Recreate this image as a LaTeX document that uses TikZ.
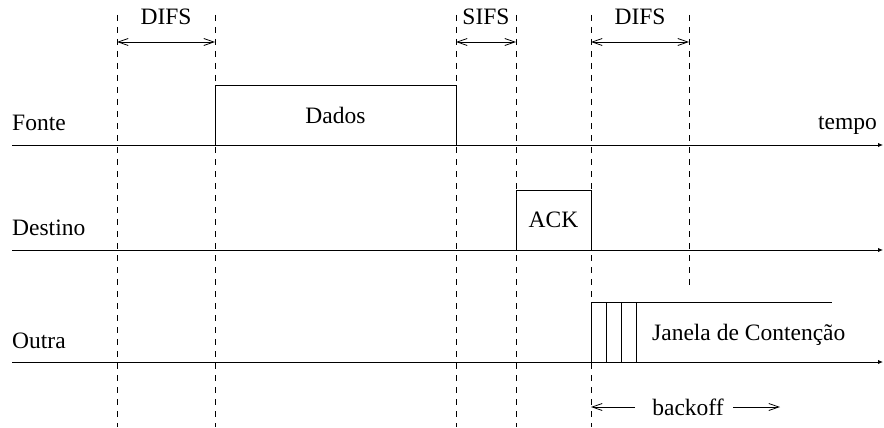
\documentclass[tikz,border=0pt]{standalone}
\usepackage{fontspec}
\setmainfont{Liberation Serif}
\usetikzlibrary{arrows.meta}

\tikzset{
  timeline/.style={line width=1pt, -{Latex[length=5pt,width=4.5pt]}},
  guide/.style={line width=0.9pt, dash pattern=on 6pt off 6pt},
  span/.style={line width=0.8pt, {Straight Barb[length=10pt,width=7pt]}-{Straight Barb[length=10pt,width=7pt]}},
  barb/.style={line width=0.8pt, -{Straight Barb[length=10pt,width=7pt]}},
  frame/.style={draw, line width=0.9pt, inner sep=0pt},
  lbl/.style={font=\fontsize{23.5}{28}\selectfont, inner sep=0pt},
}

\begin{document}
\begin{tikzpicture}[x=1pt, y=-1pt]
        \useasboundingbox (0,0) rectangle (884,428);

        % Draw the dashed guide lines
        \foreach \gx/\gname in {117/a, 215/b, 456/c, 516/d, 591/e} {
            \coordinate (top\gname) at (\gx, 15);
            \coordinate (bot\gname) at (\gx, 427);
            \draw[guide] (top\gname) -- (bot\gname);
        }
        \coordinate (topf) at (689, 15);
        \coordinate (botf) at (689, 285);
        \draw[guide] (topf) -- (botf);

        % Draw the intervals on top
        \coordinate (difsA) at (117, 42);
        \coordinate (difsB) at (215, 42);
        \coordinate (sifsA) at (456, 42);
        \coordinate (sifsB) at (516, 42);
        \coordinate (difsC) at (591, 42);
        \coordinate (difsD) at (689, 42);
        \draw[span] (difsA) -- (difsB);
        \draw[span] (sifsA) -- (sifsB);
        \draw[span] (difsC) -- (difsD);
        \node[lbl, anchor=base] (difs1) at (166, 25) {DIFS};
        \node[lbl, anchor=base] (sifs) at (486, 25) {SIFS};
        \node[lbl, anchor=base] (difs2) at (640, 25) {DIFS};

        % Draw the time lines
        \foreach \ty/\tname in {145/fonte, 250/destino, 362/outra} {
            \coordinate (\tname start) at (12, \ty);
            \coordinate (\tname end) at (883, \ty);
            \draw[timeline] (\tname start) -- (\tname end);
        }
        \node[lbl, anchor=base west] (fonte) at (12, 130) {Fonte};
        \node[lbl, anchor=base west] (destino) at (12, 235) {Destino};
        \node[lbl, anchor=base west] (outra) at (12, 348) {Outra};
        \node[lbl, anchor=base east] (tempo) at (877, 129) {tempo};

        % Draw the frames
        \node[frame, lbl, minimum width=241pt, minimum height=60pt] (dados) at (335.5, 115) {Dados};
        \node[frame, lbl, minimum width=75pt, minimum height=60pt] (ack) at (553.5, 220) {ACK};

        % Draw the contention window
        \coordinate (janA) at (591, 362);
        \coordinate (janB) at (591, 302);
        \coordinate (janC) at (832, 302);
        \draw[line width=0.9pt] (janA) -- (janB) -- (janC);
        \foreach \sx in {606, 621, 636}
            \draw[line width=0.9pt] (\sx, 362) -- (\sx, 302);
        \node[lbl, anchor=base west] (janela) at (652, 340) {Janela de Contenção};

        % Draw the backoff arrows
        \node[lbl, anchor=base] (backoff) at (688, 415) {backoff};
        \coordinate (boA) at (635, 407);
        \coordinate (boB) at (591, 407);
        \coordinate (boC) at (733, 407);
        \coordinate (boD) at (780, 407);
        \draw[barb] (boA) -- (boB);
        \draw[barb] (boC) -- (boD);
\end{tikzpicture}
\end{document}
